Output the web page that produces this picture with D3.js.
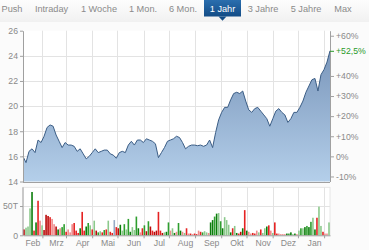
<!DOCTYPE html>
<html><head><meta charset="utf-8">
<script src="https://cdn.jsdelivr.net/npm/d3@7/dist/d3.min.js"></script>
<style>
html,body{margin:0;padding:0;background:#fbfbfb;}
svg{display:block;font-family:"Liberation Sans",Arial,sans-serif;}
</style></head><body>
<svg id="c" width="369" height="250"></svg>
<script>
const navItems = ["Push","Intraday","1 Woche","1 Mon.","6 Mon.","1 Jahr","3 Jahre","5 Jahre","Max"];
const navCenters = [12,51.5,99,143,183,222.5,263,306,343];
const navSelected = "1 Jahr";

const startDate = new Date(2025,0,9), endDate = new Date(2026,0,8);
const priceTicks = [14,16,18,20,22,24,26];
const pctTicks = [60,52.5,40,30,20,10,0,-10];
const pctLabels = ["+60%","+52,5%","+40%","+30%","+20%","+10%","0%","-10%"];
const monthLabels = ["Feb","Mrz","Apr","Mai","Jun","Jul","Aug","Sep","Okt","Nov","Dez","Jan"];
const volTicks = [0,50];
const volTickLabels = ["0","50T"];

const prices = [16.0,15.5,16.4,16.6,16.3,17.3,17.1,17.6,18.3,18.5,18.4,17.7,17.2,16.7,17.1,16.9,16.9,16.8,16.4,16.6,
16.2,15.8,16.0,16.3,16.6,16.3,16.4,16.5,16.5,16.2,16.1,15.85,16.3,16.4,16.3,16.9,17.2,16.9,17.3,17.3,
17.1,17.4,17.3,17.2,17.0,15.9,16.3,16.7,17.2,17.3,17.4,17.6,17.5,17.1,16.6,16.8,16.9,16.9,16.85,16.9,
16.8,16.9,17.3,16.7,17.9,18.9,19.5,19.9,19.9,20.5,21.0,21.1,21.0,21.2,20.4,19.7,19.5,19.8,19.9,19.6,
19.3,19.0,18.4,19.0,19.6,19.8,19.5,19.3,18.7,19.0,19.5,19.5,19.9,20.4,21.1,21.6,22.1,22.2,21.2,22.5,
22.9,23.5,24.4];

const volumes = [10,13,15,46,74,8,22,59,25,17,9,35,33,31,28,19,15,10,12,14,
19,6,10,5,19,21,8,4,12,40,8,15,21,17,10,25,8,5,7,5,
9,10,25,6,4,26,14,12,18,8,19,10,28,6,14,9,32,12,5,12,
17,7,24,15,8,6,8,40,8,4,5,6,22,8,12,4,6,21,8,6,
4,12,3,3,2,3,2,8,6,5,7,5,4,22,26,32,37,38,24,12,
31,26,18,5,12,16,4,3,6,12,43,8,6,3,4,3,8,5,10,4,
12,15,17,8,4,22,3,3,2,2,2,3,3,5,2,3,2,8,12,12,
14,16,14,23,30,10,30,49,16,6,3,3,22];
const volColors = ["DR","LG","LG","LG","DG","R","DG","R","LR","LG","DR","DR","DR","R","LR","LR","DR","DG","LR","G",
"G","R","LR","LR","LR","R","R","R","DG","R","R","DG","G","LG","R","LG","DR","G","LG","R",
"G","R","LG","R","R","B","R","DR","DG","LG","G","LG","G","DG","LG","LG","G","DG","LR","R",
"G","DR","G","DR","R","DR","DR","R","R","DR","LG","DG","G","LR","LG","DG","LR","G","DG","LR",
"LG","R","LR","R","LR","R","R","LR","R","G","LG","LG","LR","DG","DG","G","DG","LG","G","DG",
"LG","LG","LG","DG","R","LG","DG","R","DR","DG","R","DG","LR","LR","R","R","LR","LG","R","LG",
"LG","DG","R","LR","LG","R","R","LR","LR","LR","LR","DG","G","DG","LG","DG","LR","LG","G","LG",
"DG","G","DG","G","LG","DG","R","LG","LG","R","LR","LR","LG"];
const colorMap = {DG:"#0b7d0b",G:"#2f9f2f",LG:"#8cc98c",R:"#e52222",DR:"#bb0a0a",LR:"#ef8b8b",B:"#95aac6"};

const svg = d3.select("#c");
const L = 23, R = 330, pTop = 30.7, pBot = 181.5, vTop = 187.3, vBot = 235.3;

// defs gradient
const defs = svg.append("defs");
const g1 = defs.append("linearGradient").attr("id","ag").attr("x1",0).attr("y1",0).attr("x2",0).attr("y2",1);
g1.append("stop").attr("offset","0%").attr("stop-color","#7b97bb");
g1.append("stop").attr("offset","100%").attr("stop-color","#b4cfea");
const g2 = defs.append("linearGradient").attr("id","nav").attr("x1",0).attr("y1",0).attr("x2",0).attr("y2",1);
g2.append("stop").attr("offset","0%").attr("stop-color","#fdfdfd");
g2.append("stop").attr("offset","100%").attr("stop-color","#f1f1f1");
const g3 = defs.append("linearGradient").attr("id","sel").attr("x1",0).attr("y1",0).attr("x2",0).attr("y2",1);
g3.append("stop").attr("offset","0%").attr("stop-color","#2a6eae");
g3.append("stop").attr("offset","100%").attr("stop-color","#134c86");

// nav bar
svg.append("rect").attr("x",0).attr("y",0).attr("width",369).attr("height",22).attr("fill","url(#nav)");
navItems.forEach((t,i)=>{
  const cx = navCenters[i];
  if (t === navSelected) {
    svg.append("rect").attr("x",cx-18.5).attr("y",0).attr("width",37).attr("height",16.5).attr("fill","url(#sel)");
    svg.append("path").attr("d",`M${cx-4},16.5L${cx},20.7L${cx+4},16.5Z`).attr("fill","#134c86");
  }
  svg.append("text").attr("x",cx).attr("y",12).attr("text-anchor","middle")
    .attr("font-size",9.2).attr("fill", t===navSelected?"#ffffff":"#8a8a8a").text(t);
});

const x = d3.scaleTime().domain([startDate,endDate]).range([L,R]);
const y = d3.scaleLinear().domain([14,26]).range([pBot,pTop]);
const yv = d3.scaleLinear().domain([0,82]).range([vBot,vTop]);
const base = prices[0];

// plot backgrounds
svg.append("rect").attr("x",L).attr("y",pTop).attr("width",R-L).attr("height",pBot-pTop).attr("fill","#ffffff");
svg.append("rect").attr("x",L).attr("y",vTop).attr("width",R-L).attr("height",vBot-vTop).attr("fill","#ffffff").attr("stroke","#e2e2e2").attr("stroke-width",0.8);

const months = d3.timeMonth.range(new Date(2025,1,1), new Date(2026,0,2));
const grid = svg.append("g").attr("stroke","#e3e3e3").attr("stroke-width",1);
months.forEach(m=>{
  const xx = Math.round(x(m))+0.5;
  grid.append("line").attr("x1",xx).attr("x2",xx).attr("y1",pTop).attr("y2",pBot);
  grid.append("line").attr("x1",xx).attr("x2",xx).attr("y1",vTop).attr("y2",vBot);
});
priceTicks.slice(1,-1).forEach(v=>{
  const yy = Math.round(y(v))+0.5;
  grid.append("line").attr("x1",L).attr("x2",R).attr("y1",yy).attr("y2",yy);
});
grid.append("line").attr("x1",L).attr("x2",R).attr("y1",Math.round(yv(50))+0.5).attr("y2",Math.round(yv(50))+0.5);

// price area and line
const dates = prices.map((p,i)=> new Date(+startDate + i*(endDate-startDate)/(prices.length-1)));
const pts = prices.map((p,i)=>({d:dates[i],v:p}));
svg.append("path").datum(pts).attr("fill","url(#ag)")
  .attr("d", d3.area().x(d=>x(d.d)).y0(pBot).y1(d=>y(d.v)));
svg.append("path").datum(pts).attr("fill","none").attr("stroke","#3b5d85").attr("stroke-width",1)
  .attr("d", d3.line().x(d=>x(d.d)).y(d=>y(d.v)));

// volume bars
const vdates = volumes.map((v,i)=> new Date(+startDate + (i+0.5)*(endDate-startDate)/volumes.length));
svg.append("g").selectAll("rect").data(volumes).join("rect")
  .attr("x",(d,i)=>x(vdates[i])-0.8).attr("width",1.6)
  .attr("y",d=>yv(d)).attr("height",d=>vBot-yv(d))
  .attr("fill",(d,i)=>colorMap[volColors[i]]);

// axes
const axCol = "#a0a0a0", txtCol = "#8a8a8a";
function styleAxis(g){
  g.select(".domain").attr("stroke",axCol);
  g.selectAll(".tick line").attr("stroke",axCol);
  g.selectAll("text").attr("fill",txtCol).attr("font-size",8.7).attr("font-family","Liberation Sans, Arial, sans-serif");
}
const ay = svg.append("g").attr("transform",`translate(${L},0)`)
  .call(d3.axisLeft(y).tickValues(priceTicks).tickSize(3).tickSizeOuter(0).tickPadding(2).tickFormat(d3.format("d")));
styleAxis(ay);

const ar = svg.append("g").attr("transform",`translate(${R},0)`)
  .call(d3.axisRight(y).tickValues(pctTicks.map(p=>base*(1+p/100))).tickSize(4).tickSizeOuter(0).tickPadding(2)
    .tickFormat((d,i)=>pctLabels[i]));
styleAxis(ar);
ar.selectAll(".tick text").attr("fill",(d,i)=> pctTicks[i]===52.5 ? "#2a9a2a" : txtCol);
ar.selectAll(".tick line").attr("stroke",(d,i)=> pctTicks[i]===52.5 ? "#2a9a2a" : axCol);

const av = svg.append("g").attr("transform",`translate(${L},0)`)
  .call(d3.axisLeft(yv).tickValues(volTicks).tickSize(3).tickSizeOuter(0).tickPadding(2).tickFormat((d,i)=>volTickLabels[i]));
av.select(".domain").attr("d",`M0,${vTop}V${vBot}`);
styleAxis(av);

// bottom line of price panel
svg.append("line").attr("x1",L).attr("x2",R).attr("y1",Math.round(pBot)+0.5).attr("y2",Math.round(pBot)+0.5).attr("stroke",axCol);

const ax = svg.append("g").attr("transform",`translate(0,${vBot})`)
  .call(d3.axisBottom(x).tickValues(months).tickSize(3).tickSizeOuter(0).tickPadding(2).tickFormat((d,i)=>monthLabels[i]));
styleAxis(ax);
ax.selectAll(".tick text").attr("dx",-10);
</script>
</body></html>
